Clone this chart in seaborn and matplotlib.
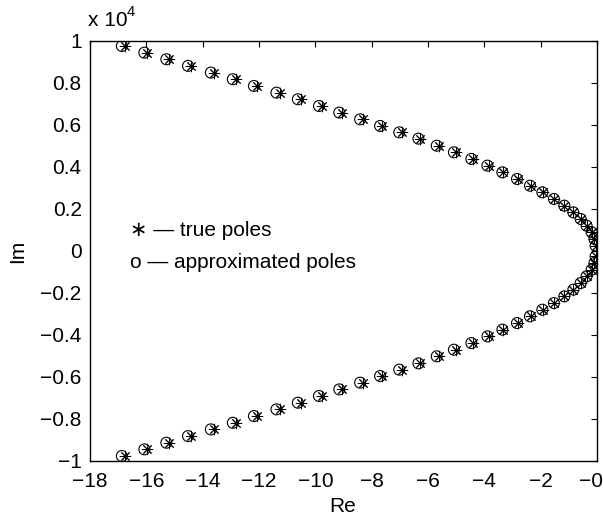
import matplotlib
matplotlib.use("Agg")
import matplotlib.pyplot as plt
import matplotlib.transforms as mtransforms
import pandas as pd
import seaborn as sns

# ---- data ----
im_upper = [9762, 9445, 9130, 8815, 8495, 8180, 7860, 7540, 7225, 6905,
            6590, 6270, 5955, 5650, 5350, 5015, 4700, 4385, 4065, 3745,
            3430, 3110, 2795, 2480, 2160, 1840, 1525, 1205, 890, 570, 255]
re_approx_upper = [-16.87, -16.07, -15.29, -14.52, -13.71, -12.93, -12.18, -11.38, -10.62, -9.87,
                   -9.15, -8.41, -7.70, -7.02, -6.34, -5.69, -5.08, -4.46, -3.89, -3.36,
                   -2.84, -2.38, -1.94, -1.53, -1.16, -0.84, -0.58, -0.37, -0.19, -0.09, -0.05]
re_true_upper = [-16.76, -15.96, -15.18, -14.41, -13.60, -12.82, -12.07, -11.27, -10.52, -9.77,
                 -9.06, -8.32, -7.62, -6.94, -6.27, -5.62, -5.02, -4.41, -3.85, -3.33,
                 -2.81, -2.36, -1.93, -1.52, -1.16, -0.84, -0.58, -0.37, -0.19, -0.09, -0.05]

im_lower = [-9762, -9445, -9130, -8815, -8495, -8180, -7860, -7540, -7225, -6905,
            -6590, -6270, -5955, -5650, -5350, -5015, -4700, -4385, -4065, -3745,
            -3430, -3110, -2795, -2480, -2160, -1840, -1525, -1205, -890, -570, -255]
re_approx_lower = [-16.87, -16.07, -15.29, -14.52, -13.71, -12.93, -12.18, -11.38, -10.62, -9.87,
                   -9.15, -8.41, -7.70, -7.02, -6.34, -5.69, -5.08, -4.46, -3.89, -3.36,
                   -2.84, -2.38, -1.94, -1.53, -1.16, -0.84, -0.58, -0.37, -0.19, -0.09, -0.05]
re_true_lower = [-16.76, -15.96, -15.18, -14.41, -13.60, -12.82, -12.07, -11.27, -10.52, -9.77,
                 -9.06, -8.32, -7.62, -6.94, -6.27, -5.62, -5.02, -4.41, -3.85, -3.33,
                 -2.81, -2.36, -1.93, -1.52, -1.16, -0.84, -0.58, -0.37, -0.19, -0.09, -0.05]

x_ticks = [-18, -16, -14, -12, -10, -8, -6, -4, -2, 0]
x_tick_labels = ["\u221218", "\u221216", "\u221214", "\u221212", "\u221210",
                 "\u22128", "\u22126", "\u22124", "\u22122", "\u22120"]
y_ticks = [-10000, -8000, -6000, -4000, -2000, 0, 2000, 4000, 6000, 8000, 10000]
y_tick_labels = ["\u22121", "\u22120.8", "\u22120.6", "\u22120.4", "\u22120.2", "0",
                 "0.2", "0.4", "0.6", "0.8", "1"]

sns.set_theme(style="white")
plt.rcParams['font.family'] = ['Liberation Sans', 'DejaVu Sans']

FS = 15
W, H = 603, 519
fig = plt.figure(figsize=(W / 100, H / 100), dpi=100)
ax = fig.add_axes([90 / W, 1 - 461 / H, 507 / W, 420 / H])

approx = pd.DataFrame({"Re": re_approx_upper + re_approx_lower,
                       "Im": im_upper + im_lower})
true = pd.DataFrame({"Re": re_true_upper + re_true_lower,
                     "Im": im_upper + im_lower})

sns.scatterplot(data=approx, x="Re", y="Im", marker="o", s=62,
                facecolors="none", edgecolor="black", linewidth=0.8,
                ax=ax, legend=False, zorder=3)
sns.scatterplot(data=true, x="Re", y="Im", marker=(8, 2, 0), s=58,
                color="black", edgecolor="black", linewidth=0.7,
                ax=ax, legend=False, zorder=4)

ax.set_xlim(-18, 0)
ax.set_ylim(-10000, 10000)
ax.set_xticks(x_ticks)
ax.set_xticklabels(x_tick_labels)
ax.set_yticks(y_ticks)
ax.set_yticklabels(y_tick_labels)
ax.tick_params(axis="both", direction="in", length=4, width=0.8,
               colors="black", labelsize=FS, top=True, right=True)
ax.tick_params(axis="x", pad=8)
ax.tick_params(axis="y", pad=6)
for sp in ax.spines.values():
    sp.set_visible(True)
    sp.set_color("black")
    sp.set_linewidth(1.0)
ax.set_facecolor("white")
ax.set_xlabel("")
ax.set_ylabel("")

# keep the last x tick label inside the canvas (as in the reference)
last = ax.get_xticklabels()[-1]
last.set_horizontalalignment("right")
last.set_transform(last.get_transform() +
                   mtransforms.ScaledTranslation(6 / 100, 0, fig.dpi_scale_trans))

# axis titles
fig.text(343 / W, 1 - 507 / H, "Re", fontsize=FS, ha="center", va="center", color="black")
fig.text(18 / W, 1 - 251 / H, "Im", fontsize=FS, ha="center", va="center",
         rotation=90, color="black")

# exponent label
fig.text(88 / W, 1 - 21 / H, "x 10", fontsize=FS, ha="left", va="center", color="black")
fig.text(127 / W, 1 - 12 / H, "4", fontsize=10.5, ha="left", va="center", color="black")

# in-plot annotation
fig.text(130 / W, 1 - 230 / H, "\u2217 \u2014 true poles", fontsize=FS,
         ha="left", va="center", color="black")
fig.text(130 / W, 1 - 263 / H, "o \u2014 approximated poles", fontsize=FS,
         ha="left", va="center", color="black")

fig.savefig("out.png", dpi=100, facecolor="white")
